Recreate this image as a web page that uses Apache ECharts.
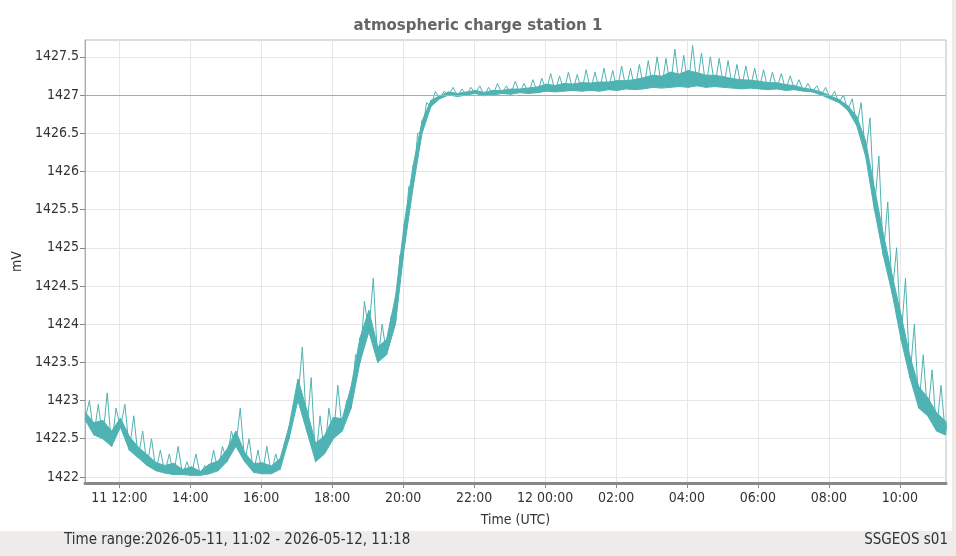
<!DOCTYPE html>
<html>
<head>
<meta charset="utf-8">
<script src="https://cdn.jsdelivr.net/npm/echarts@6/dist/echarts.min.js"></script>
<style>
  html, body { margin: 0; padding: 0; background: #edeceb; }
  #chart { width: 956px; height: 556px; }
</style>
</head>
<body>
<div id="chart"></div>
<script>
// hours since 2026-05-11 00:00, one slot every 15 minutes from 11:02
const startHour = 11 + 2 / 60;
const slotHours = 0.25;

// per-slot min / max (mV)
const lows = [
  1422.75, 1422.55, 1422.5, 1422.4, 1422.65, 1422.35, 1422.25, 1422.15, 1422.08, 1422.05,
  1422.03, 1422.03, 1422.02, 1422.02, 1422.04, 1422.08, 1422.2, 1422.4, 1422.2, 1422.06,
  1422.04, 1422.04, 1422.1, 1422.5, 1423.0, 1422.6, 1422.2, 1422.3, 1422.5, 1422.6,
  1422.9, 1423.5, 1423.9, 1423.5, 1423.6, 1424.0, 1425.0, 1425.8, 1426.5, 1426.85,
  1426.95, 1427.0, 1426.98, 1427.0, 1427.02, 1426.99, 1427.0, 1427.02, 1427.01, 1427.03,
  1427.02, 1427.03, 1427.05, 1427.04, 1427.05, 1427.06, 1427.05, 1427.06, 1427.05, 1427.07,
  1427.06, 1427.08, 1427.07, 1427.08, 1427.1, 1427.09, 1427.1, 1427.11, 1427.1, 1427.12,
  1427.1, 1427.11, 1427.1, 1427.09, 1427.08, 1427.09, 1427.08, 1427.07, 1427.08, 1427.06,
  1427.07, 1427.05, 1427.04, 1427.0, 1426.95, 1426.9, 1426.8, 1426.6, 1426.2, 1425.5,
  1424.9, 1424.4, 1423.8, 1423.3, 1422.9, 1422.8, 1422.6, 1422.55
];
const highs = [
  1423.0, 1422.95, 1423.1, 1422.9, 1422.95, 1422.8, 1422.6, 1422.5, 1422.35, 1422.3,
  1422.4, 1422.2, 1422.3, 1422.15, 1422.35, 1422.4, 1422.6, 1422.9, 1422.5, 1422.35,
  1422.4, 1422.3, 1422.45, 1422.9, 1423.7, 1423.3, 1422.8, 1422.9, 1423.2, 1423.0,
  1423.6, 1424.3, 1424.6, 1424.0, 1424.1, 1424.9, 1425.8, 1426.5, 1426.9, 1427.05,
  1427.05, 1427.1, 1427.08, 1427.1, 1427.12, 1427.1, 1427.15, 1427.12, 1427.18, 1427.15,
  1427.2, 1427.22, 1427.28, 1427.25, 1427.3, 1427.27, 1427.33, 1427.3, 1427.35, 1427.32,
  1427.38, 1427.35, 1427.4, 1427.45, 1427.5, 1427.48, 1427.6, 1427.52, 1427.65, 1427.55,
  1427.5, 1427.48, 1427.45, 1427.4, 1427.38, 1427.35, 1427.33, 1427.3, 1427.28, 1427.25,
  1427.2, 1427.15, 1427.12, 1427.1, 1427.05, 1427.0, 1426.95, 1426.9, 1426.7, 1426.2,
  1425.6, 1425.0, 1424.6, 1424.0, 1423.6, 1423.4, 1423.2, 1423.0
];

const xTicks = [12, 14, 16, 18, 20, 22, 24, 26, 28, 30, 32, 34];
const yTicks = [1422, 1422.5, 1423, 1423.5, 1424, 1424.5, 1425, 1425.5, 1426, 1426.5, 1427, 1427.5];

const zigzag = [];
const band = [];
lows.forEach((lo, i) => {
  const t = startHour + i * slotHours;
  zigzag.push([t, lo]);
  zigzag.push([t + slotHours / 2, highs[i]]);
  band.push([t, lo, highs[i]]);
});

function hourLabel(h) {
  const day = h >= 24 ? 12 : 11;
  const hh = String(Math.round(h) % 24).padStart(2, '0') + ':00';
  return (h === 12 || h === 24) ? day + ' ' + hh : hh;
}

// dense core of the trace: lower part of the low/high envelope
function renderBand(params, api) {
  const i = params.dataIndex;
  if (i >= band.length - 1) return null;
  const a = band[i], b = band[i + 1];
  const core = r => r[1] + 0.4 * (r[2] - r[1]);
  const pts = [
    api.coord([a[0], a[1]]),
    api.coord([a[0], core(a)]),
    api.coord([b[0], core(b)]),
    api.coord([b[0], b[1]])
  ];
  return {
    type: 'polygon',
    shape: { points: pts },
    style: { fill: teal, stroke: teal, lineWidth: 1 }
  };
}

const teal = '#4fb3b3';
const font = 'DejaVu Sans Condensed, DejaVu Sans';
const chart = echarts.init(document.getElementById('chart'));
chart.setOption({
  animation: false,
  backgroundColor: '#edeceb',
  graphic: [
    { type: 'rect', z: -10, shape: { x: 0, y: 0, width: 952, height: 531 }, style: { fill: '#ffffff' } },
    { type: 'text', left: 64, top: 533, style: { text: 'Time range:2026-05-11, 11:02 - 2026-05-12, 11:18', font: '15px ' + font, fill: '#333' } },
    { type: 'text', right: 8, top: 533, style: { text: 'SSGEOS s01', font: '15px ' + font, fill: '#333' } }
  ],
  title: {
    text: 'atmospheric charge station 1', left: 'center', top: 14,
    textStyle: { fontFamily: 'DejaVu Sans', fontWeight: 'bold', fontSize: 15, color: '#666' }
  },
  grid: { left: 85, right: 10, top: 40, bottom: 73, show: true, borderColor: '#bbb', borderWidth: 1 },
  xAxis: {
    type: 'value', min: startHour, max: 35.3,
    name: 'Time (UTC)', nameLocation: 'middle', nameGap: 30,
    nameTextStyle: { fontFamily: font, fontSize: 14, color: '#333' },
    axisLine: { lineStyle: { color: '#888', width: 3 } },
    axisTick: { customValues: xTicks, lineStyle: { color: '#888' } },
    axisLabel: { customValues: xTicks, formatter: hourLabel, fontFamily: font, fontSize: 14, color: '#333' },
    splitLine: { show: false }
  },
  yAxis: {
    type: 'value', min: 1421.92, max: 1427.72,
    name: 'mV', nameLocation: 'middle', nameGap: 58,
    nameTextStyle: { fontFamily: font, fontSize: 14, color: '#333' },
    axisLine: { show: true, lineStyle: { color: '#aaa', width: 1 } },
    axisTick: { show: true, customValues: yTicks, lineStyle: { color: '#888' } },
    axisLabel: { customValues: yTicks, formatter: v => String(v), fontFamily: font, fontSize: 14, color: '#333', margin: 6 },
    splitLine: { show: false }
  },
  series: [{
    type: 'custom', data: band, renderItem: renderBand, clip: true,
    encode: { x: 0, y: [1, 2] },
    markLine: {
      silent: true, symbol: 'none', label: { show: false }, z: 0,
      lineStyle: { color: '#e6e6e6', type: 'solid', width: 1 },
      data: xTicks.map(v => ({ xAxis: v })).concat(yTicks.filter(v => v !== 1427).map(v => ({ yAxis: v })))
    }
  }, {
    type: 'line', data: zigzag, showSymbol: false,
    lineStyle: { color: teal, width: 1 },
    markLine: {
      silent: true, symbol: 'none', label: { show: false },
      lineStyle: { color: '#aaa', type: 'solid', width: 1 },
      data: [{ yAxis: 1427 }]
    }
  }]
});
</script>
</body>
</html>
